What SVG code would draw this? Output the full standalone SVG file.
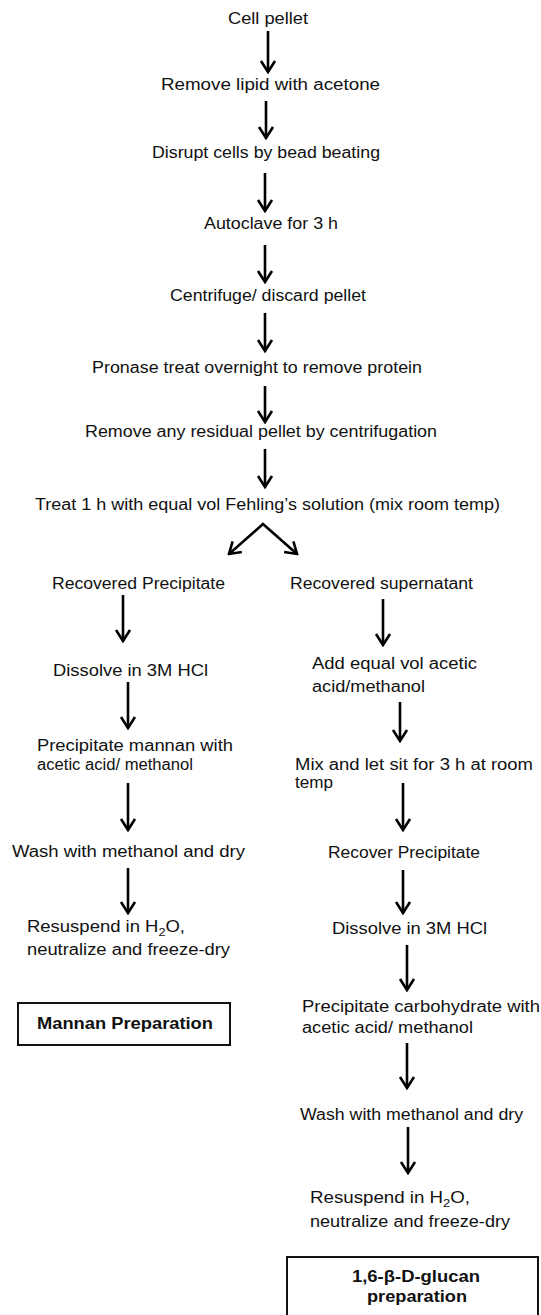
<svg xmlns="http://www.w3.org/2000/svg" width="541" height="1315" viewBox="0 0 541 1315">
<defs>
<marker id="ah" viewBox="-14 -9 16 18" refX="0" refY="0" markerWidth="16" markerHeight="18" markerUnits="userSpaceOnUse" orient="auto">
<path d="M-11,-7 L0,0 L-11,7" fill="none" stroke="#000" stroke-width="2.6" stroke-linejoin="miter"/>
</marker>
<marker id="ahs" viewBox="-14 -9 16 18" refX="0" refY="0" markerWidth="16" markerHeight="18" markerUnits="userSpaceOnUse" orient="auto-start-reverse">
<path d="M-11,-7 L0,0 L-11,7" fill="none" stroke="#000" stroke-width="2.6" stroke-linejoin="miter"/>
</marker>
</defs>
<style>
text{font-family:"Liberation Sans",Arial,sans-serif;font-size:16px;fill:#111}
.b{font-weight:bold}
.sub{font-size:11px}
.c{stroke:#000;stroke-width:2.6;fill:none;marker-end:url(#ah)}
.box{fill:#fff;stroke:#111;stroke-width:2}
</style>
<rect width="541" height="1315" fill="#fff"/>
<g id="connectors">
<line class="c" x1="268" y1="31" x2="268" y2="72"/>
<line class="c" x1="266" y1="101" x2="266" y2="138"/>
<line class="c" x1="265" y1="173" x2="265" y2="211"/>
<line class="c" x1="265" y1="245" x2="265" y2="282"/>
<line class="c" x1="265" y1="313" x2="265" y2="351"/>
<line class="c" x1="265" y1="386" x2="265" y2="422"/>
<line class="c" x1="265" y1="449" x2="265" y2="487"/>
<path d="M229,554 L263,524 L297,554" fill="none" stroke="#000" stroke-width="2.6" stroke-linejoin="miter" marker-start="url(#ahs)" marker-end="url(#ah)"/>
<line class="c" x1="123" y1="595" x2="123" y2="641"/>
<line class="c" x1="128" y1="682" x2="128" y2="728"/>
<line class="c" x1="128" y1="783" x2="128" y2="830"/>
<line class="c" x1="128" y1="868" x2="128" y2="913"/>
<line class="c" x1="383" y1="599" x2="383" y2="645"/>
<line class="c" x1="400" y1="702" x2="400" y2="741"/>
<line class="c" x1="403" y1="783" x2="403" y2="830"/>
<line class="c" x1="403" y1="870" x2="403" y2="913"/>
<line class="c" x1="407" y1="945" x2="407" y2="990"/>
<line class="c" x1="407" y1="1043" x2="407" y2="1088"/>
<line class="c" x1="408" y1="1127" x2="408" y2="1173"/>
</g>
<g id="n1"><text x="228" y="24" textLength="80" lengthAdjust="spacingAndGlyphs">Cell pellet</text></g>
<g id="n2"><text x="161" y="90" textLength="219" lengthAdjust="spacingAndGlyphs">Remove lipid with acetone</text></g>
<g id="n3"><text x="152" y="158" textLength="228" lengthAdjust="spacingAndGlyphs">Disrupt cells by bead beating</text></g>
<g id="n4"><text x="204" y="229" textLength="134" lengthAdjust="spacingAndGlyphs">Autoclave for 3 h</text></g>
<g id="n5"><text x="170" y="301" textLength="196" lengthAdjust="spacingAndGlyphs">Centrifuge/ discard pellet</text></g>
<g id="n6"><text x="92" y="373" textLength="330" lengthAdjust="spacingAndGlyphs">Pronase treat overnight to remove protein</text></g>
<g id="n7"><text x="85" y="437" textLength="352" lengthAdjust="spacingAndGlyphs">Remove any residual pellet by centrifugation</text></g>
<g id="n8"><text x="35" y="510" textLength="465" lengthAdjust="spacingAndGlyphs">Treat 1 h with equal vol Fehling’s solution (mix room temp)</text></g>
<g id="L1"><text x="52" y="589" textLength="173" lengthAdjust="spacingAndGlyphs">Recovered Precipitate</text></g>
<g id="L2"><text x="53" y="676" textLength="155" lengthAdjust="spacingAndGlyphs">Dissolve in 3M HCl</text></g>
<g id="L3">
<text x="37" y="751" textLength="196" lengthAdjust="spacingAndGlyphs">Precipitate mannan with</text>
<text x="37" y="770" textLength="156" lengthAdjust="spacingAndGlyphs">acetic acid/ methanol</text>
</g>
<g id="L4"><text x="12" y="857" textLength="233" lengthAdjust="spacingAndGlyphs">Wash with methanol and dry</text></g>
<g id="L5">
<text x="27" y="932" textLength="158" lengthAdjust="spacingAndGlyphs">Resuspend in H<tspan class="sub" dy="4">2</tspan><tspan dy="-4">O,</tspan></text>
<text x="27" y="955" textLength="203" lengthAdjust="spacingAndGlyphs">neutralize and freeze-dry</text>
</g>
<g id="L6">
<rect class="box" x="18" y="1003" width="212" height="42"/>
<text class="b" x="37" y="1029" textLength="176" lengthAdjust="spacingAndGlyphs">Mannan Preparation</text>
</g>
<g id="R1"><text x="290" y="589" textLength="183" lengthAdjust="spacingAndGlyphs">Recovered supernatant</text></g>
<g id="R2">
<text x="312" y="669" textLength="165" lengthAdjust="spacingAndGlyphs">Add equal vol acetic</text>
<text x="312" y="692" textLength="113" lengthAdjust="spacingAndGlyphs">acid/methanol</text>
</g>
<g id="R3">
<text x="295" y="770" textLength="238" lengthAdjust="spacingAndGlyphs">Mix and let sit for 3 h at room</text>
<text x="295" y="788" textLength="38" lengthAdjust="spacingAndGlyphs">temp</text>
</g>
<g id="R4"><text x="328" y="858" textLength="152" lengthAdjust="spacingAndGlyphs">Recover Precipitate</text></g>
<g id="R5"><text x="332" y="934" textLength="155" lengthAdjust="spacingAndGlyphs">Dissolve in 3M HCl</text></g>
<g id="R6">
<text x="302" y="1012" textLength="238" lengthAdjust="spacingAndGlyphs">Precipitate carbohydrate with</text>
<text x="302" y="1033" textLength="171" lengthAdjust="spacingAndGlyphs">acetic acid/ methanol</text>
</g>
<g id="R7"><text x="300" y="1120" textLength="223" lengthAdjust="spacingAndGlyphs">Wash with methanol and dry</text></g>
<g id="R8">
<text x="310" y="1203" textLength="160" lengthAdjust="spacingAndGlyphs">Resuspend in H<tspan class="sub" dy="4">2</tspan><tspan dy="-4">O,</tspan></text>
<text x="310" y="1227" textLength="200" lengthAdjust="spacingAndGlyphs">neutralize and freeze-dry</text>
</g>
<g id="R9">
<rect class="box" x="287" y="1257" width="251" height="70"/>
<text class="b" x="352" y="1282" textLength="128" lengthAdjust="spacingAndGlyphs">1,6-β-D-glucan</text>
<text class="b" x="367" y="1302" textLength="100" lengthAdjust="spacingAndGlyphs">preparation</text>
</g>
</svg>
